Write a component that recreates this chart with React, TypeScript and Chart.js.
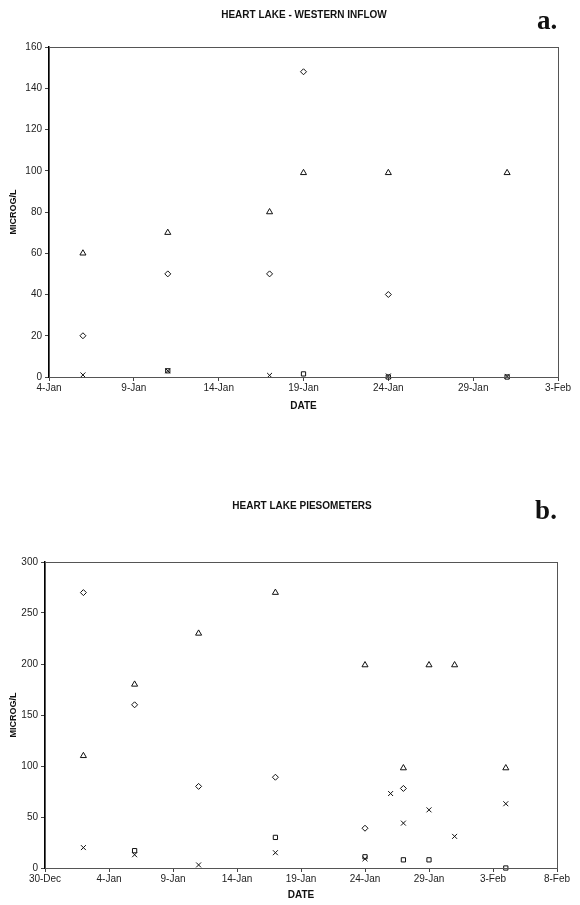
import React, { useEffect, useRef } from "react";
import { Chart, registerables } from "chart.js";
Chart.register(...registerables);

// ---- Data: chart a (Western inflow) ----
const topDates = ["6-Jan", "11-Jan", "17-Jan", "19-Jan", "24-Jan", "31-Jan"];
const topDiamond = [20, 50, 50, 148, 40, null];
const topTriangle = [60, 70, 80, 99, 99, 99];
const topSquare = [null, 3, null, 1.5, 0, 0];
const topCross = [1, 3, 0.8, null, 0.5, 0.3];
const topTickLabels = ["4-Jan", "9-Jan", "14-Jan", "19-Jan", "24-Jan", "29-Jan", "3-Feb"];
const topYTicks = [0, 20, 40, 60, 80, 100, 120, 140, 160];

// ---- Data: chart b (Piesometers) ----
const botDates = ["2-Jan", "6-Jan", "11-Jan", "17-Jan", "24-Jan", "26-Jan", "27-Jan", "29-Jan", "31-Jan", "4-Feb"];
const botDiamond = [270, 160, 80, 89, 39, null, 78, null, null, null];
const botTriangle = [110, 180, 230, 270, 199, null, 98, 199, 199, 98];
const botSquare = [null, 17, null, 30, 11, null, 8, 8, null, 0];
const botCross = [20, 13, 3, 15, 9, 73, 44, 57, 31, 63];
const botTickLabels = ["30-Dec", "4-Jan", "9-Jan", "14-Jan", "19-Jan", "24-Jan", "29-Jan", "3-Feb", "8-Feb"];
const botYTicks = [0, 50, 100, 150, 200, 250, 300];

function toDay(s: string): number {
  const [d, m] = s.split("-");
  const n = parseInt(d, 10);
  if (m === "Dec") return n - 32;
  if (m === "Jan") return n - 1;
  return n + 30;
}
function fromDay(v: number): string {
  if (v < 0) return `${v + 32}-Dec`;
  if (v < 31) return `${v + 1}-Jan`;
  return `${v - 30}-Feb`;
}

function pts(dates: string[], vals: (number | null)[]) {
  const out: { x: number; y: number }[] = [];
  dates.forEach((d, i) => {
    const v = vals[i];
    if (v !== null && v !== undefined) out.push({ x: toDay(d), y: v });
  });
  return out;
}

const FONT = "'Liberation Sans', Arial, sans-serif";

const boxPlugin = {
  id: "box",
  afterDraw(chart: any) {
    const { ctx, chartArea } = chart;
    const { left, top, right, bottom } = chartArea;
    ctx.save();
    ctx.strokeStyle = "#555";
    ctx.lineWidth = 1;
    ctx.strokeRect(Math.round(left) + 0.5, Math.round(top) + 0.5, Math.round(right - left), Math.round(bottom - top));
    ctx.restore();
  },
};

function makeConfig(
  dates: string[],
  diamond: (number | null)[],
  triangle: (number | null)[],
  square: (number | null)[],
  cross: (number | null)[],
  tickLabels: string[],
  yTicks: number[],
  geom: { padTop: number; padRight: number; yWidth: number; xHeight: number; titlePad: number }
) {
  const mk = (data: any, style: string, r: number) => ({
    data,
    pointStyle: style,
    pointRadius: r,
    pointBackgroundColor: "rgba(255,255,255,0)",
    pointBorderColor: "#111",
    pointBorderWidth: 1,
    showLine: false,
    clip: false as any,
  });
  const xVals = tickLabels.map(toDay);
  return {
    type: "scatter" as const,
    data: {
      datasets: [
        mk(pts(dates, diamond), "rectRot", 3),
        mk(pts(dates, triangle), "triangle", 3.5),
        mk(pts(dates, square), "rect", 3),
        mk(pts(dates, cross), "crossRot", 3.5),
      ],
    },
    plugins: [boxPlugin],
    options: {
      animation: false as const,
      responsive: false,
      devicePixelRatio: 1,
      layout: { padding: { top: geom.padTop, right: geom.padRight, left: 0, bottom: 0 } },
      plugins: { legend: { display: false }, tooltip: { enabled: false }, title: { display: false } },
      scales: {
        x: {
          type: "linear" as const,
          min: xVals[0],
          max: xVals[xVals.length - 1],
          afterBuildTicks: (scale: any) => {
            scale.ticks = xVals.map((v) => ({ value: v }));
          },
          afterFit: (scale: any) => {
            scale.height = geom.xHeight;
          },
          ticks: {
            callback: (v: any) => fromDay(Number(v)),
            font: { family: FONT, size: 10 },
            color: "#222",
            padding: 1,
            maxRotation: 0,
            autoSkip: false,
          },
          grid: { drawOnChartArea: false, drawTicks: true, tickLength: 4, color: "#444" },
          border: { display: true, color: "#222", width: 1 },
          title: {
            display: true,
            text: "DATE",
            font: { family: FONT, size: 10, weight: "bold" as const },
            color: "#111",
            padding: { top: 0, bottom: geom.titlePad },
          },
        },
        y: {
          type: "linear" as const,
          min: yTicks[0],
          max: yTicks[yTicks.length - 1],
          afterBuildTicks: (scale: any) => {
            scale.ticks = yTicks.map((v) => ({ value: v }));
          },
          afterFit: (scale: any) => {
            scale.width = geom.yWidth;
          },
          ticks: {
            font: { family: FONT, size: 10 },
            color: "#222",
            padding: 3,
          },
          grid: { drawOnChartArea: false, drawTicks: true, tickLength: 4, color: "#444" },
          border: { display: true, color: "#000", width: 1.5 },
          title: {
            display: true,
            text: "MICROG/L",
            font: { family: FONT, size: 9, weight: "bold" as const },
            color: "#111",
            padding: { top: 8, bottom: 0 },
          },
        },
      },
    },
  };
}

function ChartCanvas({ config, width, height, top }: { config: any; width: number; height: number; top: number }) {
  const ref = useRef<HTMLCanvasElement>(null);
  useEffect(() => {
    if (!ref.current) return;
    const chart = new Chart(ref.current, config);
    return () => chart.destroy();
  }, [config]);
  return (
    <canvas
      ref={ref}
      width={width}
      height={height}
      style={{ position: "absolute", left: 0, top, width, height }}
    />
  );
}

const titleStyle: React.CSSProperties = {
  position: "absolute",
  fontFamily: FONT,
  fontWeight: "bold",
  fontSize: 10,
  color: "#111",
  whiteSpace: "nowrap",
  transform: "translate(-50%, -50%)",
  lineHeight: 1,
};
const letterStyle: React.CSSProperties = {
  position: "absolute",
  fontFamily: "'Liberation Serif', 'Times New Roman', serif",
  fontWeight: "bold",
  fontSize: 27,
  color: "#111",
  lineHeight: 1,
  transform: "translate(-50%, -50%)",
};

const topConfig = makeConfig(topDates, topDiamond, topTriangle, topSquare, topCross, topTickLabels, topYTicks, {
  padTop: 47,
  padRight: 22,
  yWidth: 49,
  xHeight: 43,
  titlePad: 8,
});
const botConfig = makeConfig(botDates, botDiamond, botTriangle, botSquare, botCross, botTickLabels, botYTicks, {
  padTop: 72,
  padRight: 23,
  yWidth: 45,
  xHeight: 37,
  titlePad: 4,
});

export default function App() {
  return (
    <div style={{ position: "absolute", left: 0, top: 0, width: 580, height: 905, background: "#fff", overflow: "hidden" }}>
      <ChartCanvas config={topConfig} width={580} height={420} top={0} />
      <ChartCanvas config={botConfig} width={580} height={415} top={490} />
      <div style={{ ...titleStyle, left: 304, top: 15 }}>HEART LAKE - WESTERN INFLOW</div>
      <div style={{ ...letterStyle, left: 547, top: 20 }}>a.</div>
      <div style={{ ...titleStyle, left: 302, top: 506 }}>HEART LAKE PIESOMETERS</div>
      <div style={{ ...letterStyle, left: 546, top: 510 }}>b.</div>
    </div>
  );
}
